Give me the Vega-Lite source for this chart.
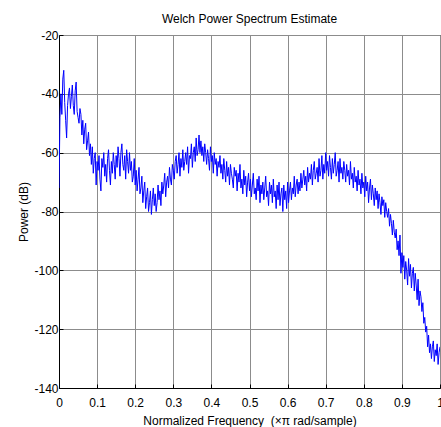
{
  "$schema": "https://vega.github.io/schema/vega-lite/v6.json",
  "autosize": {"type": "none"},
  "padding": {"left": 59, "top": 35, "right": 1, "bottom": 39},
  "width": 381,
  "height": 353,
  "background": "white",
  "title": {
    "text": "Welch Power Spectrum Estimate",
    "font": "Liberation Sans",
    "fontSize": 12,
    "fontWeight": "normal",
    "color": "black",
    "offset": 3
  },
  "config": {
    "view": {"stroke": "black", "strokeWidth": 1},
    "axis": {
      "labelFont": "Liberation Sans",
      "titleFont": "Liberation Sans",
      "labelFontSize": 12,
      "titleFontSize": 12,
      "titleFontWeight": "normal",
      "labelColor": "black",
      "titleColor": "black",
      "domainColor": "black",
      "tickColor": "black",
      "tickSize": -4,
      "gridColor": "#8c8c8c",
      "gridWidth": 1
    }
  },
  "data": {
    "values": [
      {"f":0,"p":-72},{"f":0.0025,"p":-48},{"f":0.005,"p":-40},{"f":0.0075,"p":-47},{"f":0.01,"p":-35},{"f":0.0125,"p":-32},{"f":0.015,"p":-43},{"f":0.0175,"p":-49},{"f":0.02,"p":-55},{"f":0.0225,"p":-44},
      {"f":0.025,"p":-40},{"f":0.0275,"p":-38},{"f":0.03,"p":-45},{"f":0.0325,"p":-41},{"f":0.035,"p":-37},{"f":0.0375,"p":-44},{"f":0.04,"p":-47},{"f":0.0425,"p":-39},{"f":0.045,"p":-36},{"f":0.0475,"p":-46},
      {"f":0.05,"p":-48},{"f":0.0525,"p":-50},{"f":0.055,"p":-45},{"f":0.0575,"p":-47},{"f":0.06,"p":-54},{"f":0.0625,"p":-49},{"f":0.065,"p":-57},{"f":0.0675,"p":-52},{"f":0.07,"p":-50},{"f":0.0725,"p":-59},
      {"f":0.075,"p":-56},{"f":0.0775,"p":-53},{"f":0.08,"p":-61},{"f":0.0825,"p":-57},{"f":0.085,"p":-64},{"f":0.0875,"p":-58},{"f":0.09,"p":-67},{"f":0.0925,"p":-62},{"f":0.095,"p":-60},{"f":0.0975,"p":-71},
      {"f":0.1,"p":-63},{"f":0.1025,"p":-66},{"f":0.105,"p":-61},{"f":0.1075,"p":-69},{"f":0.11,"p":-73},{"f":0.1125,"p":-62},{"f":0.115,"p":-65},{"f":0.1175,"p":-60},{"f":0.12,"p":-68},{"f":0.1225,"p":-64},
      {"f":0.125,"p":-70},{"f":0.1275,"p":-62},{"f":0.13,"p":-59},{"f":0.1325,"p":-66},{"f":0.135,"p":-71},{"f":0.1375,"p":-63},{"f":0.14,"p":-67},{"f":0.1425,"p":-60},{"f":0.145,"p":-64},{"f":0.1475,"p":-69},
      {"f":0.15,"p":-61},{"f":0.1525,"p":-65},{"f":0.155,"p":-58},{"f":0.1575,"p":-62},{"f":0.16,"p":-68},{"f":0.1625,"p":-60},{"f":0.165,"p":-57},{"f":0.1675,"p":-64},{"f":0.17,"p":-66},{"f":0.1725,"p":-61},
      {"f":0.175,"p":-69},{"f":0.1775,"p":-59},{"f":0.18,"p":-63},{"f":0.1825,"p":-67},{"f":0.185,"p":-60},{"f":0.1875,"p":-66},{"f":0.19,"p":-63},{"f":0.1925,"p":-70},{"f":0.195,"p":-68},{"f":0.1975,"p":-62},
      {"f":0.2,"p":-71},{"f":0.2025,"p":-66},{"f":0.205,"p":-73},{"f":0.2075,"p":-69},{"f":0.21,"p":-65},{"f":0.2125,"p":-74},{"f":0.215,"p":-72},{"f":0.2175,"p":-68},{"f":0.22,"p":-77},{"f":0.2225,"p":-73},
      {"f":0.225,"p":-70},{"f":0.2275,"p":-79},{"f":0.23,"p":-75},{"f":0.2325,"p":-72},{"f":0.235,"p":-80},{"f":0.2375,"p":-77},{"f":0.24,"p":-73},{"f":0.2425,"p":-81},{"f":0.245,"p":-76},{"f":0.2475,"p":-72},
      {"f":0.25,"p":-78},{"f":0.2525,"p":-74},{"f":0.255,"p":-80},{"f":0.2575,"p":-77},{"f":0.26,"p":-71},{"f":0.2625,"p":-76},{"f":0.265,"p":-73},{"f":0.2675,"p":-78},{"f":0.27,"p":-70},{"f":0.2725,"p":-74},
      {"f":0.275,"p":-71},{"f":0.2775,"p":-67},{"f":0.28,"p":-75},{"f":0.2825,"p":-70},{"f":0.285,"p":-68},{"f":0.2875,"p":-72},{"f":0.29,"p":-65},{"f":0.2925,"p":-69},{"f":0.295,"p":-71},{"f":0.2975,"p":-64},
      {"f":0.3,"p":-66},{"f":0.3025,"p":-69},{"f":0.305,"p":-63},{"f":0.3075,"p":-61},{"f":0.31,"p":-67},{"f":0.3125,"p":-64},{"f":0.315,"p":-60},{"f":0.3175,"p":-68},{"f":0.32,"p":-62},{"f":0.3225,"p":-65},
      {"f":0.325,"p":-59},{"f":0.3275,"p":-66},{"f":0.33,"p":-63},{"f":0.3325,"p":-60},{"f":0.335,"p":-64},{"f":0.3375,"p":-58},{"f":0.34,"p":-67},{"f":0.3425,"p":-61},{"f":0.345,"p":-62},{"f":0.3475,"p":-57},
      {"f":0.35,"p":-65},{"f":0.3525,"p":-60},{"f":0.355,"p":-58},{"f":0.3575,"p":-63},{"f":0.36,"p":-55},{"f":0.3625,"p":-61},{"f":0.365,"p":-59},{"f":0.3675,"p":-54},{"f":0.37,"p":-60},{"f":0.3725,"p":-56},
      {"f":0.375,"p":-61},{"f":0.3775,"p":-58},{"f":0.38,"p":-63},{"f":0.3825,"p":-57},{"f":0.385,"p":-60},{"f":0.3875,"p":-64},{"f":0.39,"p":-59},{"f":0.3925,"p":-62},{"f":0.395,"p":-66},{"f":0.3975,"p":-58},
      {"f":0.4,"p":-63},{"f":0.4025,"p":-61},{"f":0.405,"p":-67},{"f":0.4075,"p":-60},{"f":0.41,"p":-64},{"f":0.4125,"p":-62},{"f":0.415,"p":-68},{"f":0.4175,"p":-63},{"f":0.42,"p":-65},{"f":0.4225,"p":-61},
      {"f":0.425,"p":-67},{"f":0.4275,"p":-64},{"f":0.43,"p":-69},{"f":0.4325,"p":-62},{"f":0.435,"p":-66},{"f":0.4375,"p":-70},{"f":0.44,"p":-63},{"f":0.4425,"p":-68},{"f":0.445,"p":-65},{"f":0.4475,"p":-71},
      {"f":0.45,"p":-64},{"f":0.4525,"p":-67},{"f":0.455,"p":-69},{"f":0.4575,"p":-72},{"f":0.46,"p":-65},{"f":0.4625,"p":-68},{"f":0.465,"p":-66},{"f":0.4675,"p":-73},{"f":0.47,"p":-67},{"f":0.4725,"p":-70},
      {"f":0.475,"p":-64},{"f":0.4775,"p":-72},{"f":0.48,"p":-69},{"f":0.4825,"p":-74},{"f":0.485,"p":-66},{"f":0.4875,"p":-71},{"f":0.49,"p":-68},{"f":0.4925,"p":-75},{"f":0.495,"p":-70},{"f":0.4975,"p":-67},
      {"f":0.5,"p":-73},{"f":0.5025,"p":-69},{"f":0.505,"p":-75},{"f":0.5075,"p":-71},{"f":0.51,"p":-67},{"f":0.5125,"p":-74},{"f":0.515,"p":-72},{"f":0.5175,"p":-76},{"f":0.52,"p":-69},{"f":0.5225,"p":-73},
      {"f":0.525,"p":-68},{"f":0.5275,"p":-77},{"f":0.53,"p":-71},{"f":0.5325,"p":-74},{"f":0.535,"p":-70},{"f":0.5375,"p":-76},{"f":0.54,"p":-72},{"f":0.5425,"p":-68},{"f":0.545,"p":-75},{"f":0.5475,"p":-73},
      {"f":0.55,"p":-78},{"f":0.5525,"p":-70},{"f":0.555,"p":-74},{"f":0.5575,"p":-71},{"f":0.56,"p":-77},{"f":0.5625,"p":-69},{"f":0.565,"p":-75},{"f":0.5675,"p":-73},{"f":0.57,"p":-79},{"f":0.5725,"p":-71},
      {"f":0.575,"p":-76},{"f":0.5775,"p":-70},{"f":0.58,"p":-78},{"f":0.5825,"p":-74},{"f":0.585,"p":-72},{"f":0.5875,"p":-80},{"f":0.59,"p":-71},{"f":0.5925,"p":-76},{"f":0.595,"p":-73},{"f":0.5975,"p":-79},
      {"f":0.6,"p":-70},{"f":0.6025,"p":-77},{"f":0.605,"p":-73},{"f":0.6075,"p":-70},{"f":0.61,"p":-76},{"f":0.6125,"p":-72},{"f":0.615,"p":-74},{"f":0.6175,"p":-68},{"f":0.62,"p":-75},{"f":0.6225,"p":-71},
      {"f":0.625,"p":-69},{"f":0.6275,"p":-74},{"f":0.63,"p":-70},{"f":0.6325,"p":-73},{"f":0.635,"p":-67},{"f":0.6375,"p":-72},{"f":0.64,"p":-69},{"f":0.6425,"p":-66},{"f":0.645,"p":-71},{"f":0.6475,"p":-68},
      {"f":0.65,"p":-73},{"f":0.6525,"p":-65},{"f":0.655,"p":-70},{"f":0.6575,"p":-67},{"f":0.66,"p":-69},{"f":0.6625,"p":-64},{"f":0.665,"p":-71},{"f":0.6675,"p":-66},{"f":0.67,"p":-63},{"f":0.6725,"p":-69},
      {"f":0.675,"p":-67},{"f":0.6775,"p":-65},{"f":0.68,"p":-70},{"f":0.6825,"p":-62},{"f":0.685,"p":-68},{"f":0.6875,"p":-66},{"f":0.69,"p":-61},{"f":0.6925,"p":-69},{"f":0.695,"p":-64},{"f":0.6975,"p":-67},
      {"f":0.7,"p":-60},{"f":0.7025,"p":-66},{"f":0.705,"p":-63},{"f":0.7075,"p":-68},{"f":0.71,"p":-61},{"f":0.7125,"p":-65},{"f":0.715,"p":-69},{"f":0.7175,"p":-62},{"f":0.72,"p":-67},{"f":0.7225,"p":-64},
      {"f":0.725,"p":-60},{"f":0.7275,"p":-68},{"f":0.73,"p":-66},{"f":0.7325,"p":-63},{"f":0.735,"p":-70},{"f":0.7375,"p":-62},{"f":0.74,"p":-67},{"f":0.7425,"p":-65},{"f":0.745,"p":-69},{"f":0.7475,"p":-63},
      {"f":0.75,"p":-66},{"f":0.7525,"p":-70},{"f":0.755,"p":-64},{"f":0.7575,"p":-68},{"f":0.76,"p":-66},{"f":0.7625,"p":-71},{"f":0.765,"p":-63},{"f":0.7675,"p":-69},{"f":0.77,"p":-67},{"f":0.7725,"p":-72},
      {"f":0.775,"p":-65},{"f":0.7775,"p":-70},{"f":0.78,"p":-68},{"f":0.7825,"p":-73},{"f":0.785,"p":-66},{"f":0.7875,"p":-71},{"f":0.79,"p":-69},{"f":0.7925,"p":-74},{"f":0.795,"p":-67},{"f":0.7975,"p":-72},
      {"f":0.8,"p":-70},{"f":0.8025,"p":-75},{"f":0.805,"p":-68},{"f":0.8075,"p":-73},{"f":0.81,"p":-70},{"f":0.8125,"p":-77},{"f":0.815,"p":-72},{"f":0.8175,"p":-69},{"f":0.82,"p":-76},{"f":0.8225,"p":-71},
      {"f":0.825,"p":-74},{"f":0.8275,"p":-78},{"f":0.83,"p":-72},{"f":0.8325,"p":-76},{"f":0.835,"p":-73},{"f":0.8375,"p":-79},{"f":0.84,"p":-74},{"f":0.8425,"p":-77},{"f":0.845,"p":-81},{"f":0.8475,"p":-75},
      {"f":0.85,"p":-78},{"f":0.8525,"p":-76},{"f":0.855,"p":-82},{"f":0.8575,"p":-77},{"f":0.86,"p":-80},{"f":0.8625,"p":-82},{"f":0.865,"p":-79},{"f":0.8675,"p":-85},{"f":0.87,"p":-81},{"f":0.8725,"p":-84},
      {"f":0.875,"p":-88},{"f":0.8775,"p":-83},{"f":0.88,"p":-87},{"f":0.8825,"p":-89},{"f":0.885,"p":-86},{"f":0.8875,"p":-93},{"f":0.89,"p":-90},{"f":0.8925,"p":-95},{"f":0.895,"p":-88},{"f":0.8975,"p":-101},
      {"f":0.9,"p":-94},{"f":0.9025,"p":-99},{"f":0.905,"p":-95},{"f":0.9075,"p":-103},{"f":0.91,"p":-97},{"f":0.9125,"p":-100},{"f":0.915,"p":-105},{"f":0.9175,"p":-96},{"f":0.92,"p":-102},{"f":0.9225,"p":-98},
      {"f":0.925,"p":-106},{"f":0.9275,"p":-101},{"f":0.93,"p":-99},{"f":0.9325,"p":-107},{"f":0.935,"p":-101},{"f":0.9375,"p":-105},{"f":0.94,"p":-110},{"f":0.9425,"p":-103},{"f":0.945,"p":-112},{"f":0.9475,"p":-107},
      {"f":0.95,"p":-109},{"f":0.9525,"p":-114},{"f":0.955,"p":-111},{"f":0.9575,"p":-118},{"f":0.96,"p":-116},{"f":0.9625,"p":-121},{"f":0.965,"p":-119},{"f":0.9675,"p":-126},{"f":0.97,"p":-122},{"f":0.9725,"p":-128},
      {"f":0.975,"p":-125},{"f":0.9775,"p":-130},{"f":0.98,"p":-126},{"f":0.9825,"p":-124},{"f":0.985,"p":-131},{"f":0.9875,"p":-127},{"f":0.99,"p":-129},{"f":0.9925,"p":-125},{"f":0.995,"p":-132},{"f":0.9975,"p":-128},
      {"f":1,"p":-126}
    ]
  },
  "mark": {"type": "line", "color": "#0000ff", "strokeWidth": 1, "clip": true},
  "encoding": {
    "x": {
      "field": "f",
      "type": "quantitative",
      "scale": {"domain": [0, 1], "nice": false, "zero": false},
      "axis": {
        "title": "Normalized Frequency\u00a0\u00a0(×π rad/sample)",
        "values": [0, 0.1, 0.2, 0.3, 0.4, 0.5, 0.6, 0.7, 0.8, 0.9, 1],
        "labelExpr": "datum.value + ''",
        "labelPadding": 13,
        "titlePadding": 7,
        "labelFlush": false,
        "labelOverlap": false
      }
    },
    "y": {
      "field": "p",
      "type": "quantitative",
      "scale": {"domain": [-140, -20], "nice": false, "zero": false},
      "axis": {
        "title": "Power (dB)",
        "values": [-140, -120, -100, -80, -60, -40, -20],
        "labelExpr": "datum.value + ''",
        "labelPadding": 5,
        "titlePadding": 3,
        "labelFlush": false,
        "labelOverlap": false
      }
    }
  }
}
